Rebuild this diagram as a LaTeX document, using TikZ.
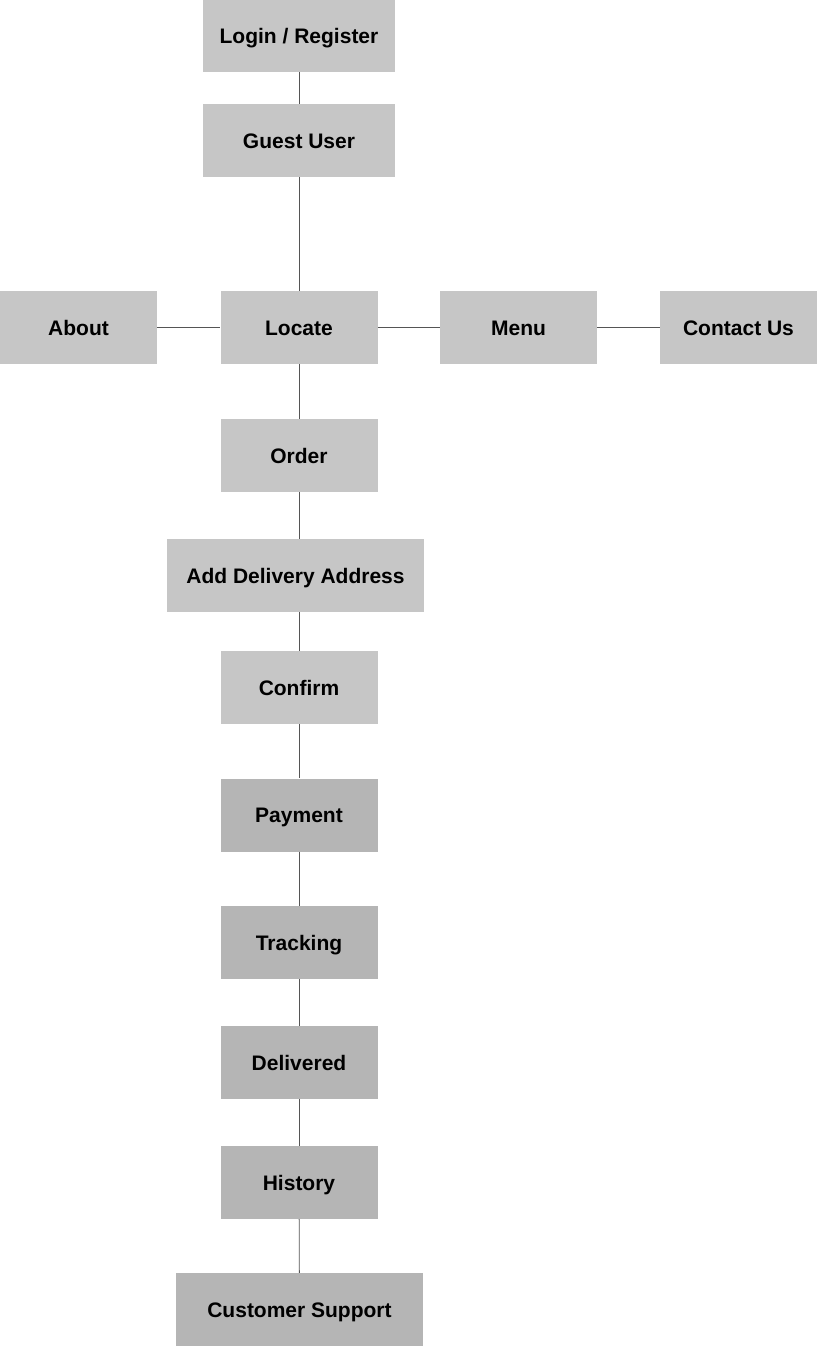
\documentclass[tikz,border=0pt]{standalone}
\usepackage{fontspec}
\setmainfont{Liberation Sans}
\definecolor{boxlight}{HTML}{C6C6C6}
\definecolor{boxdark}{HTML}{B5B5B5}
\definecolor{linegray}{HTML}{555555}

\begin{document}
\begin{tikzpicture}[x=1pt,y=-1pt]
\tikzstyle{every node}+=[inner sep=0pt, text height=15pt, text depth=0pt, font=\fontsize{21}{25}\selectfont\bfseries]
\tikzstyle{page}=[fill=boxlight, minimum width=157pt, minimum height=73pt]
\tikzstyle{pagedark}=[page, fill=boxdark]
\tikzstyle{link}=[draw=linegray, line width=0.8pt]
\useasboundingbox (0,0) rectangle (818,1346);
\node [page, minimum width=192pt, minimum height=72pt] (login) at (299,36) {Login / Register};
\node [page, minimum width=192pt] (guest) at (299,140.5) {Guest User};
\node [page] (about) at (78.5,327.5) {About};
\node [page] (locate) at (299,327.5) {Locate};
\node [page] (menu) at (518.5,327.5) {Menu};
\node [page] (contact) at (738.5,327.5) {Contact Us};
\node [page] (order) at (299,455.5) {Order};
\node [page, minimum width=257pt] (address) at (295.5,575.5) {Add Delivery Address};
\node [page] (confirm) at (299,687.5) {Confirm};
\node [pagedark] (payment) at (299,815) {Payment};
\node [pagedark] (tracking) at (299,942.5) {Tracking};
\node [pagedark] (delivered) at (299,1062.5) {Delivered};
\node [pagedark] (history) at (299,1182.5) {History};
\node [pagedark, minimum width=247pt] (support) at (299.5,1309.5) {Customer Support};
\draw [link] (login) -- (guest);
\draw [link] (guest) -- (locate);
\draw [link] (about) -- (locate);
\draw [link] (locate) -- (menu);
\draw [link] (menu) -- (contact);
\draw [link] (locate) -- (order);
\draw [link] (order) -- (order |- address.north);
\draw [link] (order |- address.south) -- (confirm);
\draw [link] (confirm) -- (payment);
\draw [link] (payment) -- (tracking);
\draw [link] (tracking) -- (delivered);
\draw [link] (delivered) -- (history);
\draw [link] (history) -- (support);
\end{tikzpicture}
\end{document}
